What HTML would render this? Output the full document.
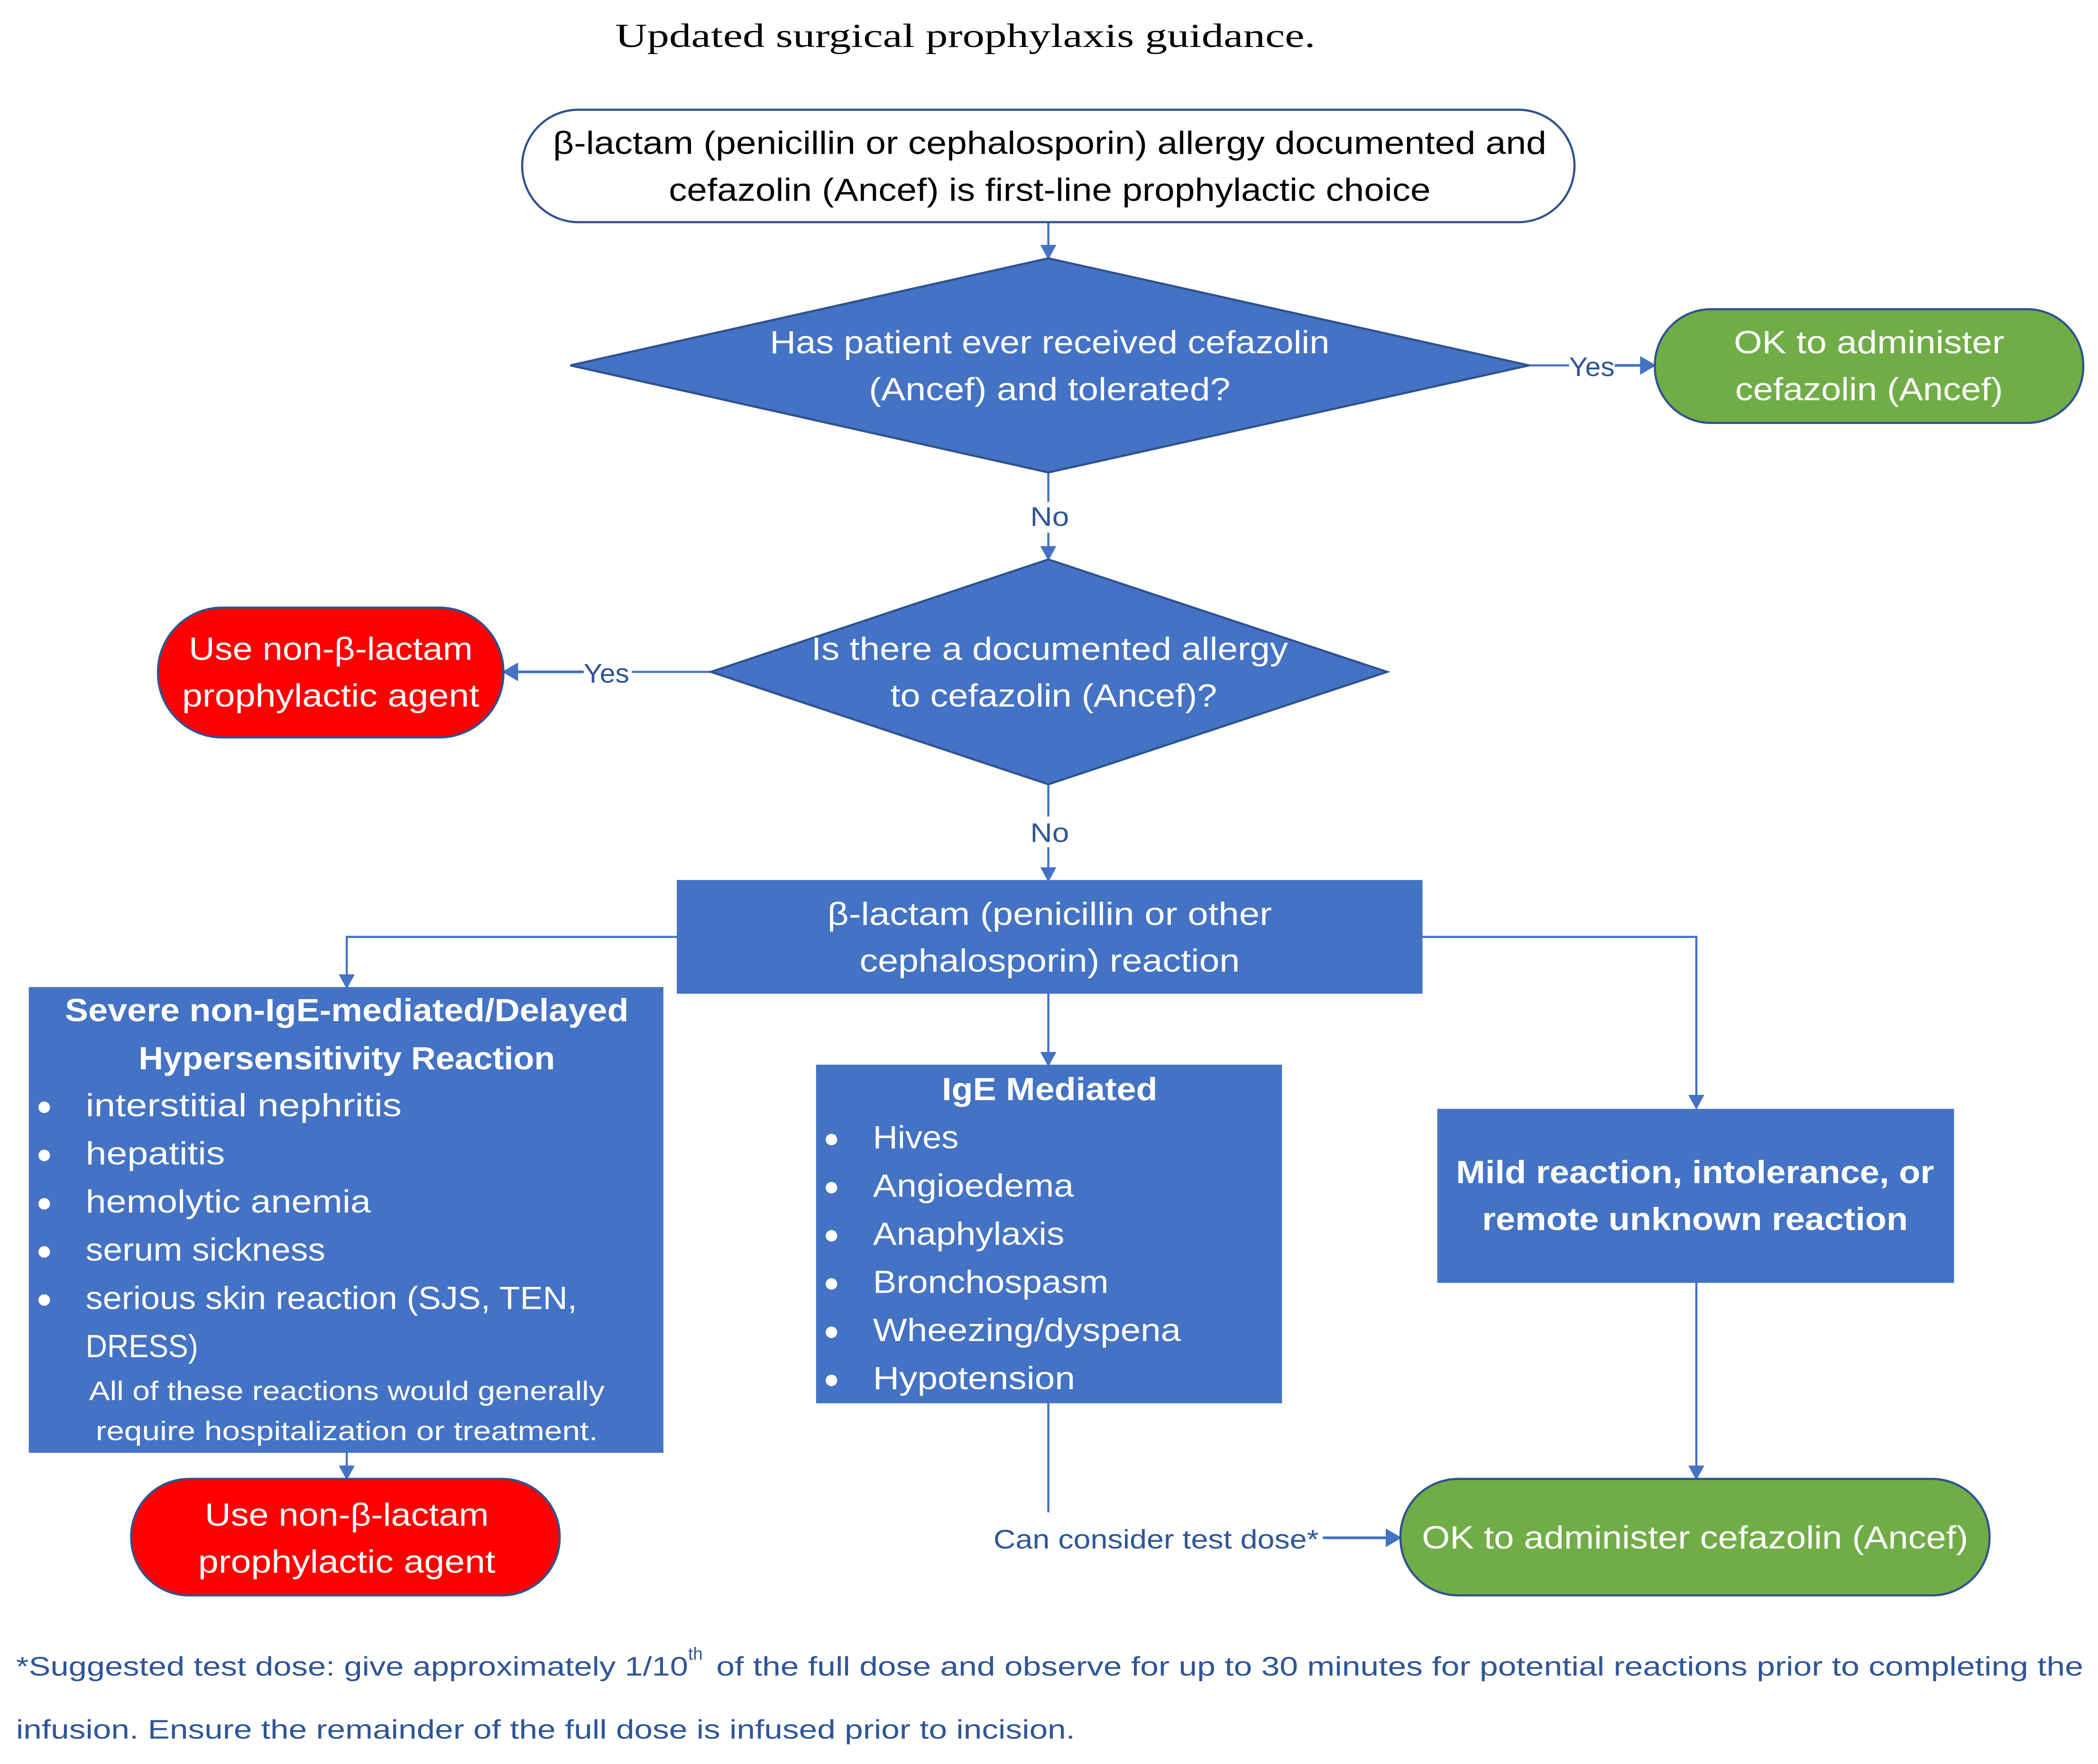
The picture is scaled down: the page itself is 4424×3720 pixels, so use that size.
<!DOCTYPE html>
<html><head><meta charset="utf-8"><style>html,body{margin:0;padding:0;background:#fff}svg{display:block}</style></head>
<body>
<svg width="4424" height="3720" viewBox="0 0 1567 1318" preserveAspectRatio="none" xmlns="http://www.w3.org/2000/svg" font-family="'Liberation Sans', sans-serif">
<defs>
<marker id="a" markerWidth="11" markerHeight="12" refX="10" refY="6" orient="auto" markerUnits="userSpaceOnUse"><path d="M0,0 L11,6 L0,12 z" fill="#4472C4"/></marker>
<marker id="b" markerWidth="12" markerHeight="14" refX="11" refY="7" orient="auto" markerUnits="userSpaceOnUse"><path d="M0,0 L12,7 L0,14 z" fill="#4472C4"/></marker>
</defs>
<rect width="1567" height="1318" fill="#fff"/>
<text x="721" y="35" font-family="'Liberation Serif', serif" font-size="25" text-anchor="middle" textLength="523" lengthAdjust="spacingAndGlyphs">Updated surgical prophylaxis guidance.</text>

<g stroke="#4472C4" stroke-width="1.6" fill="none">
<line x1="783" y1="166" x2="783" y2="193" marker-end="url(#a)"/>
<line x1="1142" y1="273" x2="1172" y2="273"/><line x1="1206" y1="273" x2="1236" y2="273" stroke-width="2" marker-end="url(#b)"/>
<line x1="783" y1="353" x2="783" y2="375"/><line x1="783" y1="398" x2="783" y2="418" marker-end="url(#a)"/>
<line x1="531" y1="502" x2="472" y2="502"/><line x1="436" y1="502" x2="376" y2="502" stroke-width="2" marker-end="url(#b)"/>
<line x1="783" y1="586" x2="783" y2="610"/><line x1="783" y1="633" x2="783" y2="658" marker-end="url(#a)"/>
<polyline points="506,700 259,700 259,738" marker-end="url(#a)"/>
<polyline points="1062,700 1267,700 1267,828" marker-end="url(#a)"/>
<line x1="783" y1="742" x2="783" y2="796" marker-end="url(#a)"/>
<line x1="259" y1="1085" x2="259" y2="1105" marker-end="url(#a)"/>
<line x1="783" y1="1048" x2="783" y2="1130"/>
<line x1="988" y1="1149" x2="1046" y2="1149" stroke-width="2" marker-end="url(#b)"/>
<line x1="1267" y1="958" x2="1267" y2="1105" marker-end="url(#a)"/>
</g>

<g stroke="#2F528F" stroke-width="1.6">
<rect x="390" y="82" width="786" height="84" rx="42" fill="#fff"/>
<polygon points="426,273 783,193 1142,273 783,353" fill="#4472C4"/>
<rect x="1236" y="231" width="320" height="85" rx="42" fill="#70AD47"/>
<polygon points="531,502 783,418 1036,502 783,586" fill="#4472C4"/>
<rect x="118" y="454" width="258" height="97" rx="48" fill="#FF0000"/>
<rect x="98" y="1105" width="320" height="87" rx="43" fill="#FF0000"/>
<rect x="1046" y="1105" width="440" height="87" rx="43" fill="#70AD47"/>
</g>
<g fill="#4472C4" stroke="#4472C4" stroke-width="1">
<rect x="506" y="658" width="556" height="84"/>
<rect x="22" y="738" width="473" height="347"/>
<rect x="610" y="796" width="347" height="252"/>
<rect x="1074" y="829" width="385" height="129"/>
</g>

<g font-size="24" text-anchor="middle" lengthAdjust="spacingAndGlyphs">
<text x="784" y="115" fill="#000" textLength="742" lengthAdjust="spacingAndGlyphs">β-lactam (penicillin or cephalosporin) allergy documented and</text>
<text x="784" y="150" fill="#000" textLength="569" lengthAdjust="spacingAndGlyphs">cefazolin (Ancef) is first-line prophylactic choice</text>
<g fill="#fff">
<text x="784" y="264" textLength="418" lengthAdjust="spacingAndGlyphs">Has patient ever received cefazolin</text>
<text x="784" y="299" textLength="270" lengthAdjust="spacingAndGlyphs">(Ancef) and tolerated?</text>
<text x="1396" y="264" textLength="202" lengthAdjust="spacingAndGlyphs">OK to administer</text>
<text x="1396" y="299" textLength="200" lengthAdjust="spacingAndGlyphs">cefazolin (Ancef)</text>
<text x="784" y="493" textLength="356" lengthAdjust="spacingAndGlyphs">Is there a documented allergy</text>
<text x="787" y="528" textLength="244" lengthAdjust="spacingAndGlyphs">to cefazolin (Ancef)?</text>
<text x="247" y="493" textLength="212" lengthAdjust="spacingAndGlyphs">Use non-β-lactam</text>
<text x="247" y="528" textLength="222" lengthAdjust="spacingAndGlyphs">prophylactic agent</text>
<text x="784" y="691" textLength="332" lengthAdjust="spacingAndGlyphs">β-lactam (penicillin or other</text>
<text x="784" y="726" textLength="284" lengthAdjust="spacingAndGlyphs">cephalosporin) reaction</text>
<text x="259" y="1140" textLength="212" lengthAdjust="spacingAndGlyphs">Use non-β-lactam</text>
<text x="259" y="1175" textLength="222" lengthAdjust="spacingAndGlyphs">prophylactic agent</text>
<text x="1266" y="1157" textLength="408" lengthAdjust="spacingAndGlyphs">OK to administer cefazolin (Ancef)</text>
<g font-weight="bold">
<text x="259" y="763" textLength="421" lengthAdjust="spacingAndGlyphs">Severe non-IgE-mediated/Delayed</text>
<text x="259" y="799" textLength="311" lengthAdjust="spacingAndGlyphs">Hypersensitivity Reaction</text>
<text x="784" y="822" textLength="161" lengthAdjust="spacingAndGlyphs">IgE Mediated</text>
<text x="1266" y="884" textLength="357" lengthAdjust="spacingAndGlyphs">Mild reaction, intolerance, or</text>
<text x="1266" y="919" textLength="318" lengthAdjust="spacingAndGlyphs">remote unknown reaction</text>
</g>
<g font-size="20">
<text x="259" y="1046" textLength="385" lengthAdjust="spacingAndGlyphs">All of these reactions would generally</text>
<text x="259" y="1076" textLength="375" lengthAdjust="spacingAndGlyphs">require hospitalization or treatment.</text>
</g>
</g>
</g>

<g font-size="24" fill="#fff" text-anchor="start">
<g font-size="20"><text x="27" y="833">●</text><text x="27" y="869">●</text><text x="27" y="905">●</text><text x="27" y="941">●</text><text x="27" y="977">●</text>
<text x="615" y="857">●</text><text x="615" y="893">●</text><text x="615" y="929">●</text><text x="615" y="965">●</text><text x="615" y="1001">●</text><text x="615" y="1037">●</text></g>
<text x="64" y="834" textLength="236" lengthAdjust="spacingAndGlyphs">interstitial nephritis</text>
<text x="64" y="870" textLength="104" lengthAdjust="spacingAndGlyphs">hepatitis</text>
<text x="64" y="906" textLength="213" lengthAdjust="spacingAndGlyphs">hemolytic anemia</text>
<text x="64" y="942" textLength="179" lengthAdjust="spacingAndGlyphs">serum sickness</text>
<text x="64" y="978" textLength="367" lengthAdjust="spacingAndGlyphs">serious skin reaction (SJS, TEN,</text>
<text x="64" y="1014" textLength="84" lengthAdjust="spacingAndGlyphs">DRESS)</text>
<text x="652" y="858" textLength="64" lengthAdjust="spacingAndGlyphs">Hives</text>
<text x="652" y="894" textLength="150" lengthAdjust="spacingAndGlyphs">Angioedema</text>
<text x="652" y="930" textLength="143" lengthAdjust="spacingAndGlyphs">Anaphylaxis</text>
<text x="652" y="966" textLength="176" lengthAdjust="spacingAndGlyphs">Bronchospasm</text>
<text x="652" y="1002" textLength="230" lengthAdjust="spacingAndGlyphs">Wheezing/dyspena</text>
<text x="652" y="1038" textLength="151" lengthAdjust="spacingAndGlyphs">Hypotension</text>
</g>

<g font-size="20" fill="#2F5597">
<text x="1189" y="281" text-anchor="middle" textLength="34" lengthAdjust="spacingAndGlyphs">Yes</text>
<text x="784" y="393" text-anchor="middle" textLength="29" lengthAdjust="spacingAndGlyphs">No</text>
<text x="453" y="510" text-anchor="middle" textLength="34" lengthAdjust="spacingAndGlyphs">Yes</text>
<text x="784" y="629" text-anchor="middle" textLength="29" lengthAdjust="spacingAndGlyphs">No</text>
<text x="742" y="1157" textLength="243" lengthAdjust="spacingAndGlyphs">Can consider test dose*</text>
<text x="12" y="1252" textLength="502" lengthAdjust="spacingAndGlyphs">*Suggested test dose: give approximately 1/10</text>
<text x="514" y="1240" font-size="13">th</text>
<text x="535" y="1252" textLength="1021" lengthAdjust="spacingAndGlyphs">of the full dose and observe for up to 30 minutes for potential reactions prior to completing the</text>
<text x="12" y="1299" textLength="791" lengthAdjust="spacingAndGlyphs">infusion. Ensure the remainder of the full dose is infused prior to incision.</text>
</g>
</svg>
</body></html>
